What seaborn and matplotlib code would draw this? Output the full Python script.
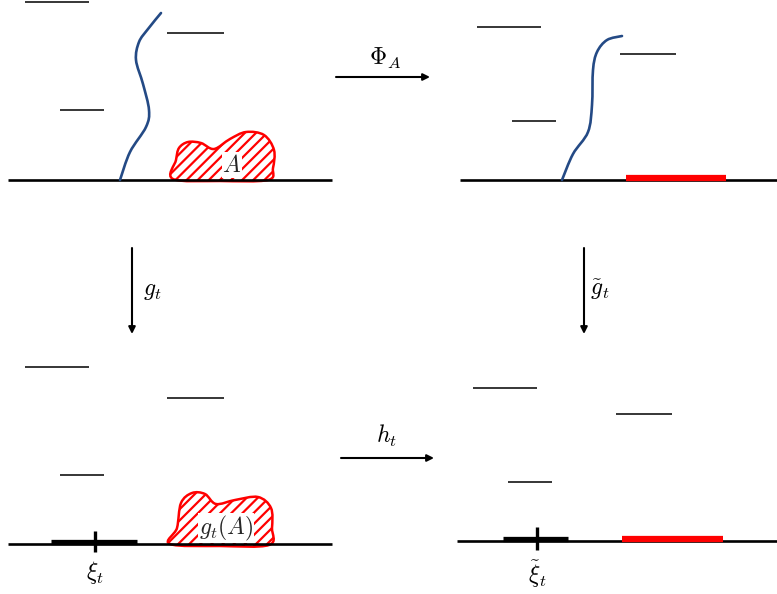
import numpy as np
import matplotlib
matplotlib.use("Agg")
import matplotlib.pyplot as plt
import seaborn as sns
from matplotlib.path import Path
from matplotlib.patches import PathPatch

sns.set_theme(style="white")
plt.rcParams['font.family'] = ['DejaVu Sans']
plt.rcParams['mathtext.fontset'] = 'cm'
plt.rcParams['hatch.linewidth'] = 1.6
plt.rcParams['hatch.color'] = 'red'

# picture coordinates in pixels (y grows downward)
baselines = [(8, 332, 180), (460, 777, 180), (8, 332, 544), (457, 777, 541)]
short_lines = [(25, 89, 2), (60, 104, 110), (167, 224, 33),
               (477, 541, 27), (512, 556, 121), (620, 676, 54),
               (25, 89, 367), (60, 104, 475), (167, 224, 398),
               (473, 537, 388), (508, 552, 482), (616, 672, 414)]
red_segments = [(626, 726, 178), (622, 723, 539)]
black_segments = [(51, 137, 542), (503, 568, 539)]
ticks = [(95, 531, 552), (537, 527, 550)]

curve_left = [(120, 180), (130, 152), (146, 127), (149, 110), (143, 84),
              (136, 60), (139, 42), (148, 29), (161, 13)]
curve_right = [(562, 180), (573, 154), (588, 132), (592, 105), (593, 70),
               (597, 52), (607, 40), (622, 36)]

blob_a = [(173, 179), (176, 160), (179, 148), (188, 142), (201, 143),
          (214, 149), (230, 139), (246, 132), (264, 135), (274, 150),
          (273, 168), (268, 180), (220, 181)]
blob_g = [(170, 544), (177, 528), (181, 503), (192, 493), (205, 494),
          (216, 504), (235, 500), (258, 497), (271, 508), (272, 528),
          (269, 545), (220, 546)]

arrows = [((336, 77), (430, 77)), ((341, 458), (434, 458)),
          ((132, 248), (132, 334)), ((584, 248), (584, 334))]
labels = [(385, 58, r'$\Phi_A$'), (387, 436, r'$h_t$'),
          (152, 290, r'$g_t$'), (600, 290, r'$\tilde{g}_t$'),
          (95, 572, r'$\xi_t$'), (537, 574, r'$\tilde{\xi}_t$')]


def smooth_path(pts, closed=False):
    # Catmull-Rom control points turned into cubic Bezier segments
    p = np.array(pts, dtype=float)
    n = len(p)
    verts = [p[0]]
    codes = [Path.MOVETO]
    m = n if closed else n - 1
    for i in range(m):
        p0 = p[(i - 1) % n] if (closed or i > 0) else p[i]
        p1 = p[i]
        p2 = p[(i + 1) % n]
        p3 = p[(i + 2) % n] if (closed or i + 2 < n) else p2
        c1 = p1 + (p2 - p0) / 6.0
        c2 = p2 - (p3 - p1) / 6.0
        verts += [c1, c2, p2]
        codes += [Path.CURVE4] * 3
    if closed:
        verts.append(p[0])
        codes.append(Path.CLOSEPOLY)
    return Path(verts, codes)


fig = plt.figure(figsize=(7.77, 5.94), dpi=100)
ax = fig.add_axes([0, 0, 1, 1])
ax.set_xlim(0, 777)
ax.set_ylim(594, 0)
ax.axis('off')

for blob in [blob_a, blob_g]:
    ax.add_patch(PathPatch(smooth_path(blob, closed=True), facecolor='white',
                           edgecolor='red', hatch='///', lw=1.8, zorder=2))

for x0, x1, y in baselines:
    ax.plot([x0, x1], [y, y], color='black', lw=1.9, zorder=3,
            solid_capstyle='butt')
for x0, x1, y in short_lines:
    ax.plot([x0, x1], [y, y], color='black', lw=1.1, solid_capstyle='butt')
for x0, x1, y in red_segments:
    ax.plot([x0, x1], [y, y], color='red', lw=4.5, zorder=4,
            solid_capstyle='butt')
for x0, x1, y in black_segments:
    ax.plot([x0, x1], [y, y], color='black', lw=3.8, zorder=4,
            solid_capstyle='butt')
for x, y0, y1 in ticks:
    ax.plot([x, x], [y0, y1], color='black', lw=2.4, zorder=5,
            solid_capstyle='butt')

for c in [curve_left, curve_right]:
    ax.add_patch(PathPatch(smooth_path(c), facecolor='none',
                           edgecolor='#244a85', lw=1.9, zorder=4,
                           capstyle='round'))

for start, end in arrows:
    ax.annotate('', xy=end, xytext=start,
                arrowprops=dict(arrowstyle='-|>', color='black', lw=1.5,
                                mutation_scale=10, shrinkA=0, shrinkB=0))

for x, y, s in labels:
    ax.text(x, y, s, fontsize=17, ha='center', va='center', color='black')

box = dict(facecolor='white', edgecolor='none', pad=0.5)
ax.text(232, 165, r'$A$', fontsize=17, ha='center', va='center', bbox=box,
        zorder=6)
ax.text(226, 528, r'$g_t(A)$', fontsize=17, ha='center', va='center',
        bbox=box, zorder=6)

fig.savefig('out.png', dpi=100)
